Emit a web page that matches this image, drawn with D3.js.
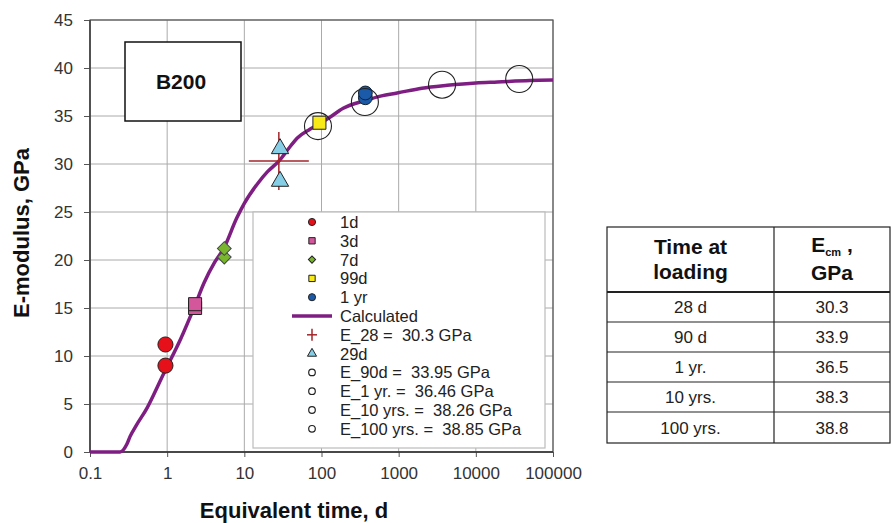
<!DOCTYPE html>
<html>
<head>
<meta charset="utf-8">
<script src="https://cdn.jsdelivr.net/npm/d3@7"></script>
<style>
  body { margin: 0; background: #fff; }
  svg { display: block; font-family: "Liberation Sans", Arial, sans-serif; }
</style>
</head>
<body>
<div id="chart"></div>
<script>
// calculated curve
const curveT = [0.1, 0.245, 0.3, 0.33, 0.4, 0.55, 0.7, 0.88, 1, 1.5, 2.3, 3, 4.15, 5.4, 8, 10, 15, 20, 28, 40, 48.6, 70, 90, 130, 191, 365, 600, 955, 2000, 4270, 10000, 19100, 50000, 100000];
const curveE = [0, 0, 0.8, 1.6, 2.8, 4.6, 6.3, 8.0, 8.9, 11.8, 15.3, 17.6, 19.8, 21.2, 24.4, 25.9, 28.0, 29.2, 30.3, 31.9, 32.7, 33.6, 34.1, 34.9, 35.8, 36.6, 37.1, 37.4, 37.9, 38.2, 38.45, 38.55, 38.7, 38.75];

// measured points
const day1 = [[0.95, 11.2], [0.95, 9.0]];
const day3 = [[2.3, 15.0], [2.3, 15.4]];
const day7 = [[5.5, 20.3], [5.5, 21.2]];
const day99 = [[94, 34.3]];
const year1 = [[370, 36.9], [370, 37.4]];
const day29 = [[29, 31.6], [29, 28.2]];
const e28 = [[28, 30.3]];
const eCircles = [[90, 33.95], [365, 36.46], [3650, 38.26], [36500, 38.85]];

const xTicks = [0.1, 1, 10, 100, 1000, 10000, 100000];
const yTicks = [0, 5, 10, 15, 20, 25, 30, 35, 40, 45];

const legendLabels = ["1d", "3d", "7d", "99d", "1 yr", "Calculated", "E_28 =  30.3 GPa", "29d",
  "E_90d =  33.95 GPa", "E_1 yr. =  36.46 GPa", "E_10 yrs. =  38.26 GPa", "E_100 yrs. =  38.85 GPa"];

const tableTimes = ["28 d", "90 d", "1 yr.", "10 yrs.", "100 yrs."];
const tableE = ["30.3", "33.9", "36.5", "38.3", "38.8"];

const W = 891, H = 523;
const svg = d3.select("#chart").append("svg").attr("width", W).attr("height", H);

const x = d3.scaleLog().domain([0.1, 100000]).range([90, 553]);
const y = d3.scaleLinear().domain([0, 45]).range([452, 20]);

// grid
svg.append("g").selectAll("line").data(xTicks).join("line")
  .attr("x1", d => x(d)).attr("x2", d => x(d)).attr("y1", y(0)).attr("y2", y(45))
  .attr("stroke", "#aaa").attr("stroke-width", 1);
svg.append("g").selectAll("line").data(yTicks).join("line")
  .attr("x1", x(0.1)).attr("x2", x(100000)).attr("y1", d => y(d)).attr("y2", d => y(d))
  .attr("stroke", "#aaa").attr("stroke-width", 1);

// axes
const xAxis = svg.append("g").attr("transform", `translate(0,${y(0)})`)
  .call(d3.axisBottom(x).tickValues(xTicks).tickSize(5).tickPadding(10).tickFormat(d => String(d)));
const yAxis = svg.append("g").attr("transform", `translate(${x(0.1)},0)`)
  .call(d3.axisLeft(y).tickValues(yTicks).tickSize(6).tickPadding(11));
[xAxis, yAxis].forEach(a => {
  a.select(".domain").remove();
  a.selectAll("line").attr("stroke", "#555");
  a.selectAll("text").attr("fill", "#333").style("font-size", "17px").style("font-family", "Liberation Sans, Arial");
});

// frame
svg.append("rect").attr("x", x(0.1)).attr("y", y(45))
  .attr("width", x(100000) - x(0.1)).attr("height", y(0) - y(45))
  .attr("fill", "none").attr("stroke", "#555").attr("stroke-width", 1.2);
svg.append("line").attr("x1", x(0.1)).attr("x2", x(100000)).attr("y1", y(0)).attr("y2", y(0))
  .attr("stroke", "#333").attr("stroke-width", 1.6);
svg.append("line").attr("x1", x(0.1)).attr("x2", x(0.1)).attr("y1", y(0)).attr("y2", y(45))
  .attr("stroke", "#444").attr("stroke-width", 1.6);

// axis titles
svg.append("text").attr("x", 294).attr("y", 518).attr("text-anchor", "middle")
  .attr("font-weight", "bold").attr("font-size", 22).attr("fill", "#111").text("Equivalent time, d");
svg.append("text").attr("transform", "translate(29,233) rotate(-90)").attr("text-anchor", "middle")
  .attr("font-weight", "bold").attr("font-size", 22).attr("fill", "#111").text("E-modulus, GPa");

// B200 box
svg.append("rect").attr("x", 125).attr("y", 42).attr("width", 116).attr("height", 79)
  .attr("fill", "#fff").attr("stroke", "#111").attr("stroke-width", 1.5);
svg.append("text").attr("x", 181).attr("y", 89).attr("text-anchor", "middle")
  .attr("font-weight", "bold").attr("font-size", 21).attr("fill", "#111").text("B200");

// legend box
const lg = svg.append("g");
lg.append("rect").attr("x", 253).attr("y", 212).attr("width", 292).attr("height", 236)
  .attr("fill", "#fff").attr("stroke", "#bbb").attr("stroke-width", 1.2);

// calculated curve
const line = d3.line().x((d, i) => x(curveT[i])).y(d => y(d)).curve(d3.curveMonotoneX);
svg.append("path").datum(curveE).attr("d", line)
  .attr("fill", "none").attr("stroke", "#7e1e82").attr("stroke-width", 3.5)
  .attr("stroke-linejoin", "round");

// marker helpers
function sym(type, size) { return d3.symbol().type(type).size(size)(); }
function drawPts(data, type, size, fill, stroke, rot) {
  svg.append("g").selectAll("path").data(data).join("path")
    .attr("transform", d => `translate(${x(d[0])},${y(d[1])}) rotate(${rot || 0})`)
    .attr("d", sym(type, size))
    .attr("fill", fill).attr("stroke", stroke).attr("stroke-width", 1);
}

// E_28 cross
svg.append("g").selectAll("g").data(e28).join("g").each(function(d) {
  const g = d3.select(this);
  g.append("line").attr("x1", x(d[0]) - 30).attr("x2", x(d[0]) + 30)
    .attr("y1", y(d[1])).attr("y2", y(d[1])).attr("stroke", "#a3262a").attr("stroke-width", 1.5);
  g.append("line").attr("x1", x(d[0])).attr("x2", x(d[0]))
    .attr("y1", y(d[1]) - 29).attr("y2", y(d[1]) + 29).attr("stroke", "#a3262a").attr("stroke-width", 1.5);
});

drawPts(day1, d3.symbolCircle, 180, "#e5101a", "#222");
drawPts(day3, d3.symbolSquare, 170, "#d4579c", "#222");
drawPts(day7, d3.symbolSquare, 95, "#7ab52e", "#445", 45);
drawPts(day29, d3.symbolTriangle, 130, "#86cde6", "#222");
drawPts(day99, d3.symbolSquare, 170, "#f7ea16", "#222");
drawPts(year1, d3.symbolCircle, 150, "#1a5aa8", "#123");

svg.append("g").selectAll("circle").data(eCircles).join("circle")
  .attr("cx", d => x(d[0])).attr("cy", d => y(d[1])).attr("r", 13.5)
  .attr("fill", "none").attr("stroke", "#222").attr("stroke-width", 1.1);

// legend entries
const lx = 312, tx = 340, ly0 = 222, ldy = 18.8;
const legendMarks = [
  {t: "sym", type: d3.symbolCircle, size: 40, fill: "#e5101a"},
  {t: "sym", type: d3.symbolSquare, size: 40, fill: "#d4579c"},
  {t: "sym", type: d3.symbolSquare, size: 26, fill: "#7ab52e", rot: 45},
  {t: "sym", type: d3.symbolSquare, size: 40, fill: "#f7ea16"},
  {t: "sym", type: d3.symbolCircle, size: 40, fill: "#1a5aa8"},
  {t: "line"},
  {t: "cross"},
  {t: "sym", type: d3.symbolTriangle, size: 36, fill: "#86cde6"},
  {t: "open"}, {t: "open"}, {t: "open"}, {t: "open"}
];
legendLabels.forEach((lab, i) => {
  const cy = ly0 + i * ldy;
  const m = legendMarks[i];
  if (m.t === "sym") {
    lg.append("path").attr("transform", `translate(${lx},${cy}) rotate(${m.rot || 0})`).attr("d", sym(m.type, m.size))
      .attr("fill", m.fill).attr("stroke", "#222").attr("stroke-width", 1);
  } else if (m.t === "line") {
    lg.append("line").attr("x1", 292).attr("x2", 332).attr("y1", cy).attr("y2", cy)
      .attr("stroke", "#7e1e82").attr("stroke-width", 3.5);
  } else if (m.t === "cross") {
    lg.append("line").attr("x1", lx - 5).attr("x2", lx + 5).attr("y1", cy).attr("y2", cy).attr("stroke", "#a3262a").attr("stroke-width", 1.5);
    lg.append("line").attr("x1", lx).attr("x2", lx).attr("y1", cy - 6).attr("y2", cy + 6).attr("stroke", "#a3262a").attr("stroke-width", 1.5);
  } else {
    lg.append("circle").attr("cx", lx).attr("cy", cy).attr("r", 3.3)
      .attr("fill", "none").attr("stroke", "#222").attr("stroke-width", 1.2);
  }
  lg.append("text").attr("x", tx).attr("y", cy + 6).attr("font-size", 16.5).attr("fill", "#222")
    .style("white-space", "pre").text(lab);
});

// table
const tb = svg.append("g");
const tX0 = 607, tX1 = 774, tX2 = 890;
const rowY = [227, 292, 322, 352, 382, 412, 443];
tb.append("rect").attr("x", tX0).attr("y", rowY[0]).attr("width", tX2 - tX0).attr("height", rowY[6] - rowY[0])
  .attr("fill", "#fff").attr("stroke", "#222").attr("stroke-width", 1.2);
tb.append("line").attr("x1", tX1).attr("x2", tX1).attr("y1", rowY[0]).attr("y2", rowY[6])
  .attr("stroke", "#222").attr("stroke-width", 1.2);
rowY.slice(1, 6).forEach((ry, i) => {
  tb.append("line").attr("x1", tX0).attr("x2", tX2).attr("y1", ry).attr("y2", ry)
    .attr("stroke", "#222").attr("stroke-width", i === 0 ? 2.2 : 1.2);
});
tb.append("text").attr("x", (tX0 + tX1) / 2).attr("y", 254).attr("text-anchor", "middle")
  .attr("font-weight", "bold").attr("font-size", 21).attr("fill", "#111").text("Time at");
tb.append("text").attr("x", (tX0 + tX1) / 2).attr("y", 279).attr("text-anchor", "middle")
  .attr("font-weight", "bold").attr("font-size", 21).attr("fill", "#111").text("loading");
const ecm = tb.append("text").attr("x", (tX1 + tX2) / 2).attr("y", 252).attr("text-anchor", "middle")
  .attr("font-weight", "bold").attr("font-size", 21).attr("fill", "#111");
ecm.append("tspan").text("E");
ecm.append("tspan").attr("font-size", 11).attr("dy", 4).text("cm");
ecm.append("tspan").attr("dy", -4).text(" ,");
tb.append("text").attr("x", (tX1 + tX2) / 2).attr("y", 280).attr("text-anchor", "middle")
  .attr("font-weight", "bold").attr("font-size", 21).attr("fill", "#111").text("GPa");
tableTimes.forEach((t, i) => {
  const cy = (rowY[i + 1] + rowY[i + 2]) / 2 + 6;
  tb.append("text").attr("x", (tX0 + tX1) / 2).attr("y", cy).attr("text-anchor", "middle")
    .attr("font-size", 17).attr("fill", "#222").text(t);
  tb.append("text").attr("x", (tX1 + tX2) / 2).attr("y", cy).attr("text-anchor", "middle")
    .attr("font-size", 17).attr("fill", "#222").text(tableE[i]);
});
</script>
</body>
</html>
